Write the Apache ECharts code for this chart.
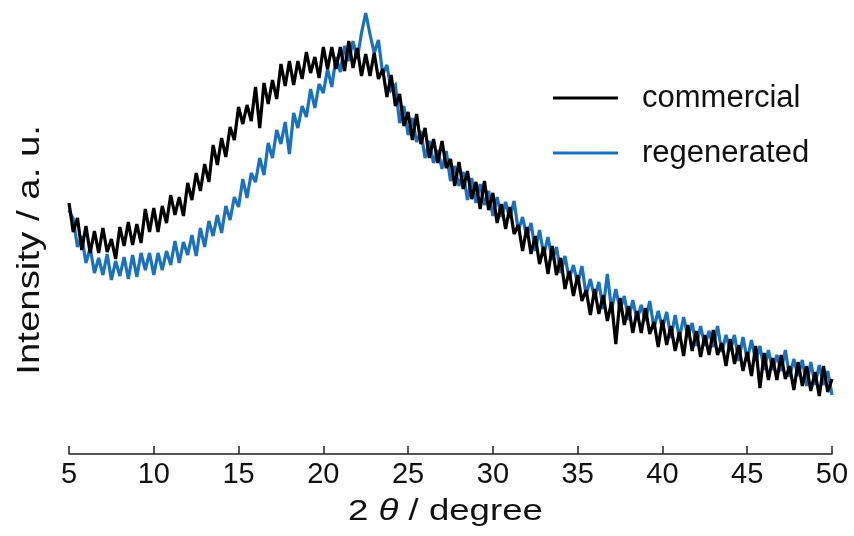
<!DOCTYPE html>
<html>
<head>
<meta charset="utf-8">
<script src="https://cdn.jsdelivr.net/npm/echarts@6/dist/echarts.min.js"></script>
<style>
  html, body { margin: 0; padding: 0; background: #fff; }
  #chart { width: 854px; height: 536px; }
</style>
</head>
<body>
<div id="chart"></div>
<script>
// 2θ 采样：5° 到 50°，每 0.25° 一个点
var thetaStart = 5
var thetaStep = 0.25

var xTicks = [5, 10, 15, 20, 25, 30, 35, 40, 45, 50]
var seriesNames = ['commercial', 'regenerated']

// 读图估计的强度 (a. u.)，每行一度
var commercial = [
  251, 222, 236, 204,
  228, 201, 223, 201,
  226, 202, 215, 195,
  227, 208, 232, 209,
  230, 211, 245, 222,
  246, 222, 248, 231,
  259, 239, 257, 238,
  271, 254, 281, 263,
  290, 272, 309, 289,
  316, 297, 327, 314,
  347, 330, 349, 333,
  367, 326, 371, 350,
  374, 355, 390, 368,
  393, 369, 393, 375,
  402, 381, 397, 376,
  407, 385, 407, 385,
  407, 383, 413, 386,
  406, 378, 400, 378,
  401, 375, 385, 357,
  379, 348, 360, 328,
  342, 314, 340, 310,
  326, 296, 315, 291,
  313, 286, 295, 268,
  292, 265, 283, 255,
  272, 245, 273, 244,
  261, 231, 250, 225,
  247, 220, 229, 203,
  227, 200, 218, 190,
  207, 180, 208, 179,
  196, 165, 183, 158,
  179, 153, 164, 139,
  165, 140, 159, 133,
  152, 110, 156, 129,
  148, 121, 143, 121,
  146, 120, 132, 107,
  134, 109, 128, 103,
  122, 98, 129, 103,
  123, 97, 119, 99,
  124, 99, 111, 88,
  115, 90, 109, 83,
  102, 78, 108, 66,
  101, 74, 96, 74,
  99, 75, 88, 64,
  92, 68, 88, 63,
  82, 58, 88, 62,
  75
]

var regenerated = [
  244, 235, 207, 218,
  191, 206, 181, 196,
  179, 200, 174, 193,
  178, 197, 175, 199,
  177, 201, 184, 201,
  179, 201, 184, 203,
  189, 213, 191, 212,
  199, 219, 198, 226,
  207, 233, 218, 239,
  221, 248, 234, 257,
  247, 275, 256, 281,
  272, 296, 279, 311,
  296, 324, 310, 332,
  300, 341, 326, 348,
  337, 365, 346, 370,
  361, 385, 367, 397,
  382, 408, 393, 413,
  395, 421, 441, 420,
  401, 414, 380, 389,
  364, 369, 331, 348,
  319, 336, 312, 323,
  296, 313, 291, 304,
  285, 303, 273, 288,
  268, 282, 254, 276,
  251, 270, 249, 263,
  238, 257, 237, 252,
  236, 253, 223, 237,
  217, 231, 203, 224,
  199, 217, 194, 207,
  181, 198, 175, 189,
  170, 188, 159, 175,
  156, 172, 145, 180,
  144, 165, 144, 158,
  134, 154, 134, 149,
  133, 153, 126, 143,
  126, 142, 116, 139,
  116, 137, 117, 131,
  108, 128, 108, 123,
  107, 128, 102, 119,
  103, 119, 93, 117,
  94, 114, 93, 108,
  84, 104, 84, 99,
  83, 104, 77, 95,
  78, 94, 68, 92,
  69, 89, 69, 83,
  59
]

function toPairs(values) {
  return values.map(function (v, i) {
    return [thetaStart + i * thetaStep, v]
  })
}

var myChart = echarts.init(document.getElementById('chart'))

var font = '"Liberation Sans", Arial, sans-serif'

var option = {
  backgroundColor: '#fff',
  animation: false,
  textStyle: { fontFamily: font },
  grid: {
    left: 69,
    right: 22,
    top: 0,
    bottom: 82,
  },
  legend: {
    orient: 'vertical',
    left: 548,
    top: 76,
    itemWidth: 65,
    itemHeight: 3,
    itemGap: 21,
    icon: 'rect',
    data: seriesNames,
    textStyle: {
      fontFamily: font,
      fontSize: 31,
      color: '#111',
      lineHeight: 34,
      padding: [0, 0, 0, 19],
    },
  },
  // 坐标轴标题用 graphic，原图字体横向被拉宽
  graphic: [
    {
      type: 'text',
      left: 14,
      top: 125,
      rotation: Math.PI / 2,
      scaleX: 1.2,
      style: {
        text: 'Intensity / a. u.',
        fontFamily: font,
        fontSize: 32,
        fill: '#111',
      },
    },
    {
      type: 'text',
      left: 348,
      top: 497,
      scaleX: 1.22,
      style: {
        text: '2 {i|θ} / degree',
        fontFamily: font,
        fontSize: 30,
        fill: '#111',
        rich: {
          i: { fontFamily: font, fontSize: 30, fontStyle: 'italic', fill: '#111' },
        },
      },
    },
  ],
  xAxis: {
    type: 'value',
    min: 5,
    max: 50,
    interval: 5,
    axisLine: { lineStyle: { color: '#222', width: 1.5 } },
    axisTick: { inside: true, length: 8, lineStyle: { color: '#222', width: 1.5 } },
    axisLabel: {
      fontFamily: font,
      fontSize: 29,
      color: '#111',
      margin: 6,
      customValues: xTicks,
    },
    splitLine: { show: false },
  },
  yAxis: {
    type: 'value',
    min: 0,
    max: 454,
    show: false,
  },
  series: [
    {
      name: seriesNames[0],
      type: 'line',
      z: 3,
      showSymbol: false,
      color: '#000000',
      lineStyle: { color: '#000000', width: 3.2, join: 'miter', miterLimit: 3 },
      data: toPairs(commercial),
    },
    {
      name: seriesNames[1],
      type: 'line',
      z: 2,
      showSymbol: false,
      color: '#1b71bd',
      lineStyle: { color: '#1b71bd', width: 3.2, join: 'miter', miterLimit: 3 },
      data: toPairs(regenerated),
    },
  ],
}

myChart.setOption(option)
</script>
</body>
</html>
